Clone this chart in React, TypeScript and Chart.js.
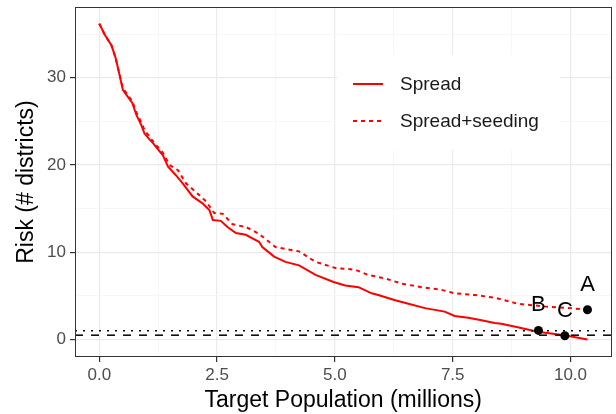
import React, { useEffect, useRef } from "react";
import { Chart, registerables } from "chart.js";

Chart.register(...registerables);

// ---- data ----
const spreadX = [0, 0.12, 0.26, 0.35, 0.43, 0.5, 0.58, 0.7, 0.79, 0.89, 0.96, 1.07, 1.14, 1.35, 1.46, 1.63, 1.77, 1.98, 2.19, 2.34, 2.41, 2.58, 2.72, 2.9, 3.11, 3.25, 3.39, 3.46, 3.71, 3.95, 4.24, 4.59, 4.97, 5.22, 5.5, 5.78, 5.92, 6.28, 6.56, 6.91, 7.33, 7.54, 7.83, 8.11, 8.39, 8.53, 8.88, 9.3, 9.87, 10.36];
const spreadY = [36.2, 34.9, 33.7, 32.2, 30.3, 28.6, 28.0, 27.1, 25.7, 24.6, 23.6, 22.9, 22.5, 21.1, 19.8, 18.8, 17.9, 16.4, 15.6, 14.8, 13.7, 13.6, 12.9, 12.2, 12.0, 11.6, 11.2, 10.6, 9.5, 8.9, 8.5, 7.4, 6.6, 6.2, 6.0, 5.3, 5.1, 4.5, 4.1, 3.6, 3.2, 2.7, 2.5, 2.2, 1.9, 1.8, 1.4, 0.9, 0.5, 0.0];

const seedingX = [0, 0.12, 0.26, 0.35, 0.43, 0.5, 0.58, 0.7, 0.79, 0.89, 0.96, 1.07, 1.2, 1.35, 1.49, 1.67, 1.84, 2.09, 2.27, 2.44, 2.62, 2.83, 3.11, 3.36, 3.46, 3.74, 4.24, 4.59, 5.01, 5.43, 5.71, 6.07, 6.42, 6.84, 7.26, 7.54, 7.97, 8.39, 8.88, 9.44, 10.0, 10.36];
const seedingY = [36.2, 34.9, 33.7, 32.2, 30.4, 28.8, 28.2, 27.3, 26.0, 24.9, 24.0, 23.2, 22.3, 21.4, 20.0, 19.4, 17.9, 16.7, 15.8, 14.5, 14.4, 13.2, 12.9, 12.2, 11.8, 10.6, 10.1, 8.9, 8.2, 8.0, 7.4, 7.0, 6.4, 6.0, 5.7, 5.3, 5.1, 4.8, 4.1, 3.8, 3.6, 3.4];

const markerLabels = ["A", "B", "C"];
const markerX = [10.36, 9.32, 9.88];
const markerY = [3.41, 1.05, 0.44];

const dashedRefY = 0.5;
const dottedRefY = 1.0;

const seriesNames = ["Spread", "Spread+seeding"];

const xRange = [-0.515, 10.87];
const yRange = [-2.0, 38.1];
const xTickValues = [0, 1.25, 2.5, 3.75, 5, 6.25, 7.5, 8.75, 10];
const xMajorTicks = [0, 2.5, 5, 7.5, 10];
const yTickValues = [0, 5, 10, 15, 20, 25, 30, 35];
const yMajorTicks = [0, 10, 20, 30];

const xTitle = "Target Population (millions)";
const yTitle = "Risk (# districts)";

const FONT = "'Liberation Sans', Arial, sans-serif";
const RED = "#ff0000";

export default function App() {
  const ref = useRef<HTMLCanvasElement | null>(null);

  useEffect(() => {
    document.body.style.margin = "0";
    const canvas = ref.current;
    if (!canvas) return;

    const isMajor = (list: number[], v: number) => list.some((m) => Math.abs(m - v) < 1e-9);

    const legendPlugin = {
      id: "ggLegend",
      afterDatasetsDraw(chart: any) {
        const { ctx, chartArea } = chart;
        const bx = chartArea.left + 262;
        const by = chartArea.top + 48;
        ctx.save();
        ctx.fillStyle = "#ffffff";
        ctx.fillRect(bx, by, 223, 95);
        const rows = [
          { name: seriesNames[0], dash: [] as number[], y: by + 29 },
          { name: seriesNames[1], dash: [4, 4], y: by + 66 },
        ];
        rows.forEach((r) => {
          ctx.strokeStyle = RED;
          ctx.lineWidth = 2;
          ctx.setLineDash(r.dash);
          ctx.beginPath();
          ctx.moveTo(bx + 16, r.y);
          ctx.lineTo(bx + 46, r.y);
          ctx.stroke();
          ctx.setLineDash([]);
          ctx.fillStyle = "#1a1a1a";
          ctx.font = `19px ${FONT}`;
          ctx.textBaseline = "middle";
          ctx.textAlign = "left";
          ctx.fillText(r.name, bx + 63, r.y + 1);
        });
        ctx.restore();
      },
      afterDraw(chart: any) {
        const { ctx, chartArea } = chart;
        ctx.save();
        const meta = chart.getDatasetMeta(0);
        ctx.fillStyle = "#000000";
        ctx.font = `22px ${FONT}`;
        ctx.textAlign = "center";
        ctx.textBaseline = "middle";
        meta.data.forEach((pt: any, i: number) => {
          ctx.fillText(markerLabels[i], pt.x, pt.y - 25);
        });
        ctx.strokeStyle = "#333333";
        ctx.lineWidth = 1;
        ctx.strokeRect(
          Math.round(chartArea.left) + 0.5,
          Math.round(chartArea.top) + 0.5,
          Math.round(chartArea.right - chartArea.left) - 1,
          Math.round(chartArea.bottom - chartArea.top) - 1
        );
        ctx.restore();
      },
    };

    const chart = new Chart(canvas, {
      type: "scatter",
      data: {
        datasets: [
          {
            label: "markers",
            data: markerX.map((x, i) => ({ x, y: markerY[i] })),
            showLine: false,
            pointRadius: 4.5,
            pointBackgroundColor: "#000000",
            pointBorderColor: "#000000",
            pointBorderWidth: 0,
            order: 0,
          },
          {
            label: "dashed ref",
            data: [
              { x: xRange[0], y: dashedRefY },
              { x: xRange[1], y: dashedRefY },
            ],
            showLine: true,
            borderColor: "#000000",
            borderWidth: 1.5,
            borderDash: [8, 8],
            pointRadius: 0,
            order: 1,
          },
          {
            label: "dotted ref",
            data: [
              { x: xRange[0], y: dottedRefY },
              { x: xRange[1], y: dottedRefY },
            ],
            showLine: true,
            borderColor: "#000000",
            borderWidth: 1.5,
            borderDash: [2, 6],
            pointRadius: 0,
            order: 1,
          },
          {
            label: seriesNames[0],
            data: spreadX.map((x, i) => ({ x, y: spreadY[i] })),
            showLine: true,
            borderColor: RED,
            borderWidth: 2,
            pointRadius: 0,
            tension: 0,
            order: 2,
          },
          {
            label: seriesNames[1],
            data: seedingX.map((x, i) => ({ x, y: seedingY[i] })),
            showLine: true,
            borderColor: RED,
            borderWidth: 2,
            borderDash: [4, 4],
            pointRadius: 0,
            tension: 0,
            order: 2,
          },
        ],
      },
      options: {
        responsive: false,
        animation: false,
        layout: { padding: { top: 7, right: 2, left: 0, bottom: 0 } },
        plugins: {
          legend: { display: false },
          tooltip: { enabled: false },
        },
        scales: {
          x: {
            type: "linear",
            min: xRange[0],
            max: xRange[1],
            afterBuildTicks: (s: any) => {
              s.ticks = xTickValues.map((v) => ({ value: v }));
            },
            afterFit: (s: any) => {
              s.height = 57;
              s.paddingLeft = 0;
              s.paddingRight = 0;
            },
            border: { display: false },
            grid: {
              color: (c: any) => (isMajor(xMajorTicks, c.tick?.value) ? "#ebebeb" : "#f3f3f3"),
              lineWidth: (c: any) => (isMajor(xMajorTicks, c.tick?.value) ? 1.2 : 0.7),
              tickColor: (c: any) => (isMajor(xMajorTicks, c.tick?.value) ? "#333333" : "rgba(0,0,0,0)"),
              tickLength: 5,
              drawTicks: true,
            },
            ticks: {
              autoSkip: false,
              maxRotation: 0,
              padding: 3,
              color: "#4d4d4d",
              font: { family: FONT, size: 17 },
              callback: (v: any) => (isMajor(xMajorTicks, Number(v)) ? Number(v).toFixed(1) : ""),
            },
            title: {
              display: true,
              text: xTitle,
              color: "#000000",
              font: { family: FONT, size: 23 },
              padding: { top: 0, bottom: 0 },
            },
          },
          y: {
            type: "linear",
            min: yRange[0],
            max: yRange[1],
            afterBuildTicks: (s: any) => {
              s.ticks = yTickValues.map((v) => ({ value: v }));
            },
            afterFit: (s: any) => {
              s.width = 75;
              s.paddingTop = 0;
              s.paddingBottom = 0;
            },
            border: { display: false },
            grid: {
              color: (c: any) => (isMajor(yMajorTicks, c.tick?.value) ? "#ebebeb" : "#f3f3f3"),
              lineWidth: (c: any) => (isMajor(yMajorTicks, c.tick?.value) ? 1.2 : 0.7),
              tickColor: (c: any) => (isMajor(yMajorTicks, c.tick?.value) ? "#333333" : "rgba(0,0,0,0)"),
              tickLength: 5,
              drawTicks: true,
            },
            ticks: {
              autoSkip: false,
              padding: 4,
              color: "#4d4d4d",
              font: { family: FONT, size: 17 },
              callback: (v: any) => (isMajor(yMajorTicks, Number(v)) ? String(Number(v)) : ""),
            },
            title: {
              display: true,
              text: yTitle,
              color: "#000000",
              font: { family: FONT, size: 23 },
              padding: { top: 13, bottom: 0 },
            },
          },
        },
      },
      plugins: [legendPlugin],
    } as any);

    return () => chart.destroy();
  }, []);

  return (
    <div style={{ width: 616, height: 414, background: "#ffffff" }}>
      <canvas ref={ref} width={616} height={414} />
    </div>
  );
}
